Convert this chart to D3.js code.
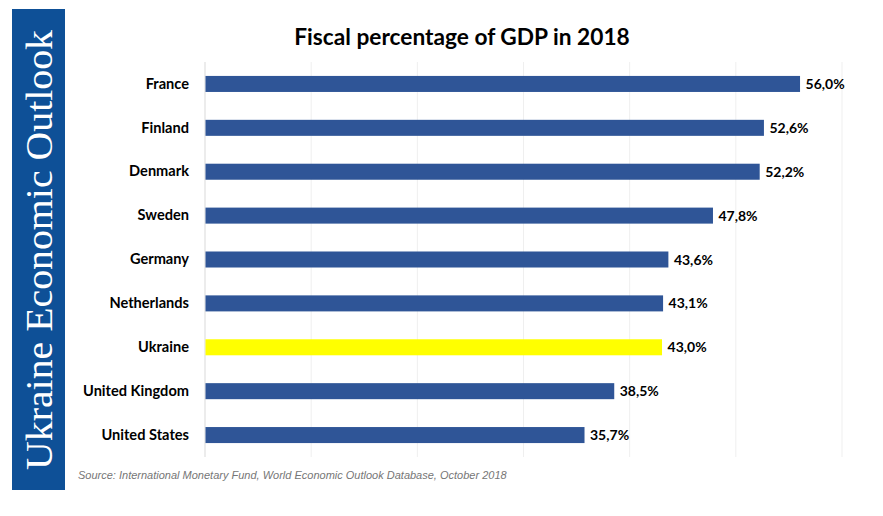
<!DOCTYPE html>
<html>
<head>
<meta charset="utf-8">
<script src="https://cdn.jsdelivr.net/npm/d3@7"></script>
<style>
  html, body { margin: 0; padding: 0; background: #fff; }
  svg { display: block; }
</style>
</head>
<body>
<svg id="chart" width="883" height="516"></svg>
<script>
const categories = ["France", "Finland", "Denmark", "Sweden", "Germany", "Netherlands", "Ukraine", "United Kingdom", "United States"];
const values = [56.0, 52.6, 52.2, 47.8, 43.6, 43.1, 43.0, 38.5, 35.7];
const xTicks = [0, 10, 20, 30, 40, 50, 60];
const highlight = "Ukraine";
const title = "Fiscal percentage of GDP in 2018";
const source = "Source: International Monetary Fund, World Economic Outlook Database, October 2018";
const banner = "Ukraine Economic Outlook";

const svg = d3.select("#chart");
const W = 883, H = 516;
const margin = { left: 205, right: 41, top: 62, bottom: 59 };

// Banner
svg.append("rect").attr("x", 12).attr("y", 9).attr("width", 53).attr("height", 481).attr("fill", "#0E5097");
svg.append("text")
  .attr("transform", "translate(52,250) rotate(-90)")
  .attr("text-anchor", "middle")
  .attr("font-family", "'Liberation Serif', 'Times New Roman', serif")
  .attr("font-size", 37)
  .attr("textLength", 440)
  .attr("lengthAdjust", "spacingAndGlyphs")
  .attr("fill", "#fff")
  .text(banner);

// Title
svg.append("text")
  .attr("x", 462).attr("y", 45)
  .attr("text-anchor", "middle")
  .attr("font-family", "Lato, 'Open Sans', sans-serif")
  .attr("font-weight", "bold")
  .attr("font-size", 22.7)
  .attr("fill", "#000")
  .text(title);

const x = d3.scaleLinear().domain([0, 60]).range([margin.left, W - margin.right]);
const y = d3.scaleBand().domain(categories).range([margin.top, H - margin.bottom]).paddingInner(0.635).paddingOuter(0.3175);

// Gridlines
const g = svg.append("g");
g.selectAll("line.grid").data(xTicks).join("line")
  .attr("class", "grid")
  .attr("x1", d => x(d)).attr("x2", d => x(d))
  .attr("y1", margin.top).attr("y2", H - margin.bottom)
  .attr("stroke", d => d === 0 ? "#d9d9d9" : "#efefef")
  .attr("stroke-width", 1);

// Bars
const data = categories.map((c, i) => ({ c, v: values[i] }));
g.selectAll("rect.bar").data(data).join("rect")
  .attr("class", "bar")
  .attr("x", x(0) + 0.5)
  .attr("y", d => y(d.c))
  .attr("width", d => x(d.v) - x(0))
  .attr("height", y.bandwidth())
  .attr("fill", d => d.c === highlight ? "#FFFF00" : "#2F5597");

// Value labels
g.selectAll("text.val").data(data).join("text")
  .attr("class", "val")
  .attr("x", d => x(d.v) + 6)
  .attr("y", d => y(d.c) + y.bandwidth() / 2)
  .attr("dy", "0.36em")
  .attr("font-family", "Lato, 'Open Sans', sans-serif")
  .attr("font-weight", "bold")
  .attr("font-size", 14)
  .attr("fill", "#000")
  .text(d => d.v.toFixed(1).replace(".", ",") + "%");

// Category axis
const yAxis = d3.axisLeft(y).tickSize(0).tickPadding(16);
const ya = svg.append("g").attr("transform", `translate(${margin.left},0)`).call(yAxis);
ya.select(".domain").remove();
ya.selectAll("text")
  .attr("font-family", "Lato, 'Open Sans', sans-serif")
  .attr("font-weight", "bold")
  .attr("font-size", 14.6)
  .attr("fill", "#000");

// Source
svg.append("text")
  .attr("x", 78).attr("y", 479)
  .attr("font-family", "'Liberation Sans', Arial, sans-serif")
  .attr("font-style", "italic")
  .attr("font-size", 11)
  .attr("fill", "#767676")
  .text(source);
</script>
</body>
</html>
